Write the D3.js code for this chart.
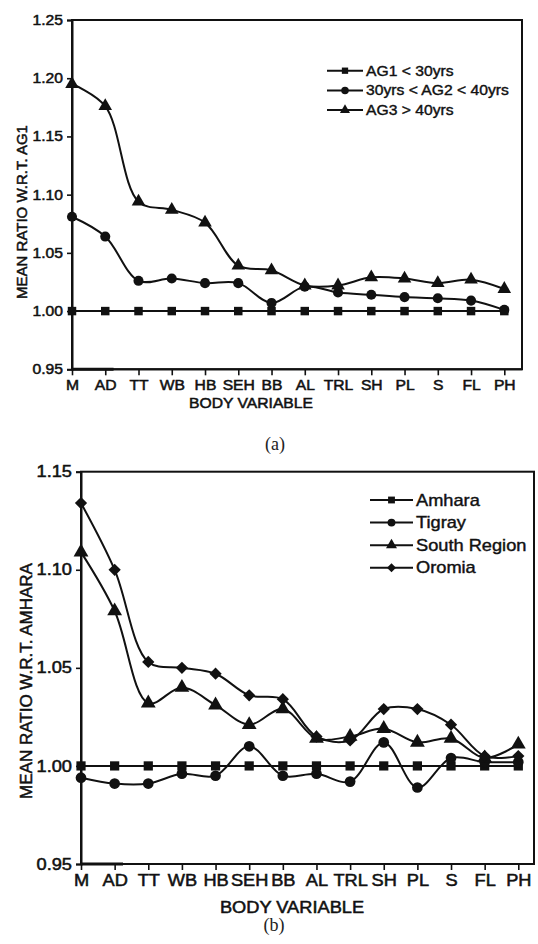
<!DOCTYPE html>
<html><head><meta charset="utf-8">
<script src="https://cdn.jsdelivr.net/npm/d3@7"></script>
<style>body{margin:0;background:#fff}svg{display:block}</style>
</head><body><svg id="c" width="538" height="944"></svg>
<script>
// ---------- data ----------
const categories = ["M","AD","TT","WB","HB","SEH","BB","AL","TRL","SH","PL","S","FL","PH"];
const yTicksA = [0.95,1.00,1.05,1.10,1.15,1.20,1.25];
const yTicksB = [0.95,1.00,1.05,1.10,1.15];

const namesA = ["AG1 < 30yrs","30yrs < AG2 < 40yrs","AG3 > 40yrs"];
const ag1 = [1,1,1,1,1,1,1,1,1,1,1,1,1,1];
const ag2 = [1.081,1.064,1.026,1.028,1.024,1.024,1.007,1.021,1.016,1.014,1.012,1.011,1.009,1.001];
const ag3 = [1.195,1.176,1.094,1.087,1.076,1.039,1.035,1.022,1.022,1.029,1.028,1.024,1.027,1.019];

const namesB = ["Amhara","Tigray","South Region","Oromia"];
const amhara = [1,1,1,1,1,1,1,1,1,1,1,1,1,1];
const tigray = [0.994,0.991,0.991,0.996,0.995,1.010,0.995,0.996,0.992,1.012,0.989,1.004,1.002,1.002];
const south  = [1.109,1.079,1.032,1.040,1.031,1.021,1.029,1.014,1.015,1.019,1.012,1.014,1.004,1.011];
const oromia = [1.134,1.100,1.053,1.050,1.047,1.036,1.034,1.015,1.013,1.029,1.029,1.021,1.005,1.005];

const svg = d3.select("#c");
const FONT = "'Liberation Sans', Arial, sans-serif";

function markerPath(type, size) {
  const t = {square: d3.symbolSquare, circle: d3.symbolCircle, triangle: d3.symbolTriangle, diamond: d3.symbolSquare}[type];
  return d3.symbol().type(t).size(size)();
}

function drawChart(cfg) {
  const g = svg.append("g");
  const x = d3.scaleLinear().domain([0, categories.length - 1]).range([cfg.left, cfg.lastX]);
  const y = d3.scaleLinear().domain([cfg.yTicks[0], cfg.yTicks[cfg.yTicks.length-1]]).range([cfg.bottom, cfg.top]);
  const sx = cfg.sx, fs = cfg.fs, sw = 0.5;

  // frame
  g.append("rect").attr("x", cfg.left).attr("y", cfg.top)
    .attr("width", cfg.right - cfg.left).attr("height", cfg.bottom - cfg.top)
    .attr("fill", "none").attr("stroke", "#111").attr("stroke-width", 2);

  // y axis
  const ya = g.append("g").attr("transform", `translate(${cfg.left},0)`)
    .call(d3.axisLeft(y).tickValues(cfg.yTicks).tickFormat(d3.format(".2f")).tickSize(5).tickPadding(4));
  ya.select(".domain").attr("stroke", "#111").attr("stroke-width", 2);
  ya.selectAll(".tick line").attr("stroke", "#111").attr("stroke-width", 1.6);
  ya.selectAll(".tick text").attr("font-family", FONT).attr("font-size", fs).attr("fill", "#111")
    .attr("stroke", "#111").attr("stroke-width", sw)
    .attr("x", -9 / sx).attr("transform", `scale(${sx},1)`);

  // x axis
  const xa = g.append("g").attr("transform", `translate(0,${cfg.bottom})`)
    .call(d3.axisBottom(x).tickValues(d3.range(categories.length)).tickFormat(i => categories[i]).tickSize(6).tickPadding(cfg.xPad));
  xa.select(".domain").remove();
  xa.selectAll(".tick line").attr("stroke", "#111").attr("stroke-width", 1.6);
  xa.selectAll(".tick text").attr("font-family", FONT).attr("font-size", fs).attr("fill", "#111")
    .attr("stroke", "#111").attr("stroke-width", sw)
    .attr("transform", `scale(${sx},1)`);
  g.append("line").attr("x1", cfg.left).attr("x2", cfg.right).attr("y1", cfg.bottom).attr("y2", cfg.bottom)
    .attr("stroke", "#111").attr("stroke-width", 2);
  // stray thick stub on the bottom axis
  g.append("line").attr("x1", x(0)).attr("x2", x(1.25)).attr("y1", y(cfg.yTicks[0])).attr("y2", y(cfg.yTicks[0]))
    .attr("stroke", "#111").attr("stroke-width", 3);

  // titles
  g.append("text").attr("transform", `translate(${cfg.xTitleX},${cfg.xTitleY}) scale(${sx},1)`)
    .attr("text-anchor", "middle").attr("font-family", FONT).attr("font-size", fs).attr("fill", "#111")
    .attr("stroke", "#111").attr("stroke-width", sw).text("BODY VARIABLE");
  g.append("text").attr("transform", `translate(${cfg.yTitleX},${cfg.yTitleY}) rotate(-90)`)
    .attr("text-anchor", "middle").attr("font-family", FONT).attr("font-size", cfg.yTitleFs).attr("fill", "#111")
    .attr("stroke", "#111").attr("stroke-width", sw).text(cfg.yTitle);
  g.append("text").attr("x", cfg.capX).attr("y", cfg.capY).attr("text-anchor", "middle")
    .attr("font-family", "'Liberation Serif', 'Times New Roman', serif").attr("font-size", 18).attr("fill", "#222")
    .text(cfg.caption);

  // series
  const line = d3.line().x((d, i) => x(i)).y(d => y(d)).curve(d3.curveCatmullRom.alpha(0.5));
  cfg.series.forEach(s => {
    g.append("path").attr("d", line(s.values)).attr("fill", "none").attr("stroke", "#111").attr("stroke-width", 2);
  });
  cfg.series.forEach(s => {
    g.selectAll(null).data(s.values).enter().append("path")
      .attr("d", markerPath(s.marker, s.size))
      .attr("transform", (d, i) => `translate(${x(i)},${y(d)})` + (s.marker === "diamond" ? " rotate(45)" : ""))
      .attr("fill", "#111");
  });

  // legend
  const lg = g.append("g");
  cfg.series.forEach((s, k) => {
    const ly = cfg.legY + k * cfg.legDy;
    lg.append("line").attr("x1", cfg.legX1).attr("x2", cfg.legX2).attr("y1", ly).attr("y2", ly)
      .attr("stroke", "#111").attr("stroke-width", 2);
    lg.append("path").attr("d", markerPath(s.marker, s.size * 0.55))
      .attr("transform", `translate(${(cfg.legX1 + cfg.legX2) / 2},${ly})` + (s.marker === "diamond" ? " rotate(45)" : ""))
      .attr("fill", "#111");
    lg.append("text").attr("transform", `translate(${cfg.legX2 + 3},${ly}) scale(${sx},1)`)
      .attr("dy", "0.35em").attr("font-family", FONT).attr("font-size", fs).attr("fill", "#111")
      .attr("stroke", "#111").attr("stroke-width", 0.4).text(s.name);
  });
}

drawChart({
  left: 72, lastX: 504.3, right: 522, top: 20, bottom: 369.3,
  yTicks: yTicksA, sx: 1.12, fs: 14, xPad: 5,
  xTitleX: 251, xTitleY: 408, yTitle: "MEAN RATIO W.R.T. AG1", yTitleX: 27, yTitleY: 212, yTitleFs: 15,
  caption: "(a)", capX: 275, capY: 450,
  legX1: 327, legX2: 363, legY: 70.7, legDy: 19.7,
  series: [
    {name: namesA[0], values: ag1, marker: "square", size: 72},
    {name: namesA[1], values: ag2, marker: "circle", size: 80},
    {name: namesA[2], values: ag3, marker: "triangle", size: 80}
  ]
});

drawChart({
  left: 81, lastX: 518.3, right: 534, top: 471.7, bottom: 864,
  yTicks: yTicksB, sx: 1.14, fs: 16, xPad: 5,
  xTitleX: 292, xTitleY: 913, yTitle: "MEAN RATIO W.R.T. AMHARA", yTitleX: 32, yTitleY: 681, yTitleFs: 17,
  caption: "(b)", capX: 274, capY: 931,
  legX1: 370, legX2: 413, legY: 500, legDy: 22.6,
  series: [
    {name: namesB[0], values: amhara, marker: "square", size: 85},
    {name: namesB[1], values: tigray, marker: "circle", size: 90},
    {name: namesB[2], values: south, marker: "triangle", size: 95},
    {name: namesB[3], values: oromia, marker: "diamond", size: 75}
  ]
});
</script>
</body></html>
